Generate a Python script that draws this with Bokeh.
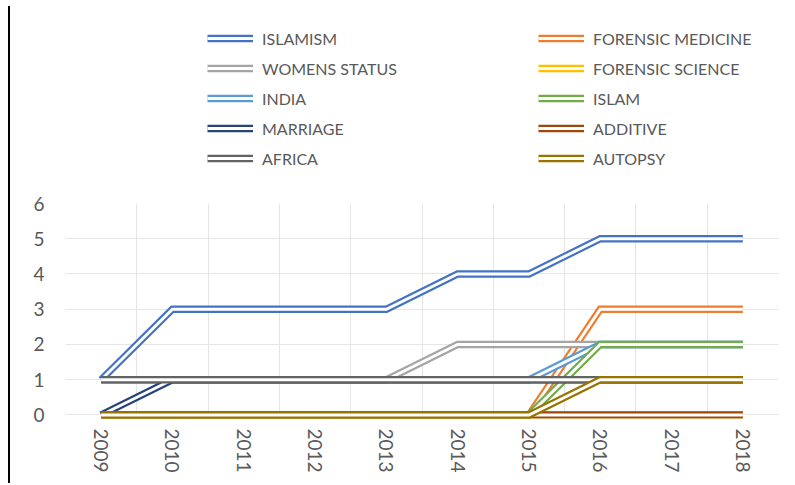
import math
from bokeh.plotting import figure
from bokeh.models import FixedTicker, Legend, LegendItem, Range1d, Div
from bokeh.layouts import row, column
from bokeh.embed import file_html
from bokeh.resources import INLINE

years = ["2009", "2010", "2011", "2012", "2013", "2014", "2015", "2016", "2017", "2018"]

islamism          = [1, 3, 3, 3, 3, 4, 4, 5, 5, 5]
forensic_medicine = [0, 0, 0, 0, 0, 0, 0, 3, 3, 3]
womens_status     = [1, 1, 1, 1, 1, 2, 2, 2, 2, 2]
forensic_science  = [0, 0, 0, 0, 0, 0, 0, 0, 0, 0]
india             = [1, 1, 1, 1, 1, 1, 1, 2, 2, 2]
islam             = [0, 0, 0, 0, 0, 0, 0, 2, 2, 2]
marriage          = [0, 1, 1, 1, 1, 1, 1, 1, 1, 1]
additive          = [0, 0, 0, 0, 0, 0, 0, 0, 0, 0]
africa            = [1, 1, 1, 1, 1, 1, 1, 1, 1, 1]
autopsy           = [0, 0, 0, 0, 0, 0, 0, 1, 1, 1]

series_names = ["ISLAMISM", "FORENSIC MEDICINE", "WOMENS STATUS", "FORENSIC SCIENCE",
                "INDIA", "ISLAM", "MARRIAGE", "ADDITIVE", "AFRICA", "AUTOPSY"]
series_values = [islamism, forensic_medicine, womens_status, forensic_science,
                 india, islam, marriage, additive, africa, autopsy]
series_colors = ["#4472C4", "#ED7D31", "#A5A5A5", "#FFC000", "#5B9BD5",
                 "#70AD47", "#264478", "#9E480E", "#636363", "#997300"]

y_ticks = [0, 1, 2, 3, 4, 5, 6]

xs = list(range(len(years)))

FIG_W = 773
LEG_H = 191
MAIN_H = 286

# ---- main chart ----
p = figure(width=FIG_W, height=MAIN_H,
           x_range=Range1d(-0.5, len(years) - 0.5),
           y_range=Range1d(-0.1, max(y_ticks)),
           output_backend="svg", toolbar_location=None,
           min_border_left=50, min_border_right=10,
           min_border_top=12, min_border_bottom=59)
p.outline_line_color = None

p.xaxis.ticker = FixedTicker(ticks=xs)
p.xaxis.major_label_overrides = {i: y for i, y in zip(xs, years)}
p.xaxis.major_label_orientation = -math.pi / 2
p.yaxis.ticker = FixedTicker(ticks=y_ticks)
for ax in (p.xaxis, p.yaxis):
    ax.axis_line_color = None
    ax.major_tick_line_color = None
    ax.minor_tick_line_color = None
    ax.major_tick_out = 0
    ax.major_tick_in = 0
    ax.minor_tick_out = 0
    ax.minor_tick_in = 0
    ax.major_label_text_font = "Lato"
    ax.major_label_text_font_size = "19px"
    ax.major_label_text_color = "#595959"
p.xaxis.major_label_standoff = 10
p.yaxis.major_label_standoff = 21

p.xgrid.ticker = FixedTicker(ticks=[i - 0.5 for i in range(len(years) + 1)])
p.ygrid.ticker = FixedTicker(ticks=y_ticks)
p.xgrid.grid_line_color = "#e6e6e6"
p.ygrid.grid_line_color = "#e6e6e6"

# ---- legend panel (its series lie outside its visible ranges) ----
lf = figure(width=FIG_W, height=LEG_H, output_backend="svg", toolbar_location=None,
            min_border=0, x_axis_location=None, y_axis_location=None,
            x_range=Range1d(100, 101), y_range=Range1d(100, 101))
lf.grid.visible = False
lf.outline_line_color = None

items = []
for name, vals, col in zip(series_names, series_values, series_colors):
    p.line(xs, vals, line_color=col, line_width=7.3, line_join="miter")
    p.line(xs, vals, line_color="white", line_width=3, line_join="miter")
    l1 = lf.line(xs, vals, line_color=col, line_width=7.3)
    l2 = lf.line(xs, vals, line_color="white", line_width=3)
    items.append(LegendItem(label=name, renderers=[l1, l2]))

legend = Legend(items=items, location=(142, 23), orientation="horizontal", ncols=2,
                label_text_font="Lato", label_text_font_size="16px",
                label_text_color="#595959", glyph_width=46, glyph_height=20,
                label_height=20, label_standoff=9, spacing=10, padding=0, margin=0,
                label_width=266, border_line_color=None, background_fill_alpha=0)
lf.add_layout(legend, "center")

edge = Div(text="", width=5, height=LEG_H + MAIN_H,
           styles={"border-right": "2px solid black", "box-sizing": "border-box",
                   "margin-top": "6px"})

layout = row(edge, column(lf, p, spacing=0), spacing=0)

open("out.html", "w").write(file_html(layout, INLINE))
